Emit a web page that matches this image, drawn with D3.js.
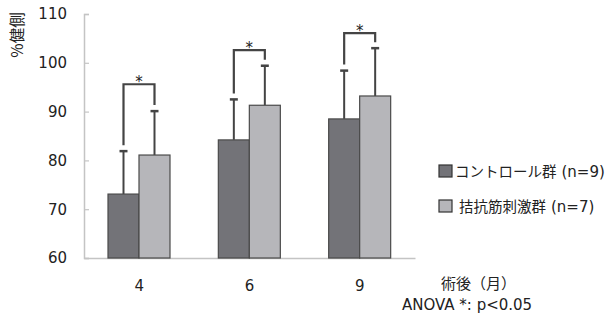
<!DOCTYPE html>
<html><head><meta charset="utf-8">
<script src="https://cdn.jsdelivr.net/npm/d3@7"></script>
<style>body{margin:0;background:#fff}svg{display:block}</style>
</head><body><svg id="c" width="608" height="320"></svg>
<script>
const categories = ["4", "6", "9"];
const seriesNames = ["コントロール群", "拮抗筋刺激群"];
const seriesN = ["(n=9)", "(n=7)"];
const controlMean = [73.1, 84.2, 88.5];
const controlUpper = [81.9, 92.5, 98.4];
const stimMean = [81.1, 91.3, 93.2];
const stimUpper = [90.1, 99.4, 103.0];
const bracketLevel = [95.6, 102.6, 106.1];
const yTicks = [60, 70, 80, 90, 100, 110];

const latin = "'DejaVu Sans', sans-serif";
const cjk = "'Noto Sans CJK JP', 'Noto Sans', sans-serif";
const svg = d3.select("#c").style("font-family", cjk);
const y = d3.scaleLinear().domain([60, 110]).range([258, 14]);
const x0 = d3.scaleBand().domain(categories).range([84, 415]);
const x1 = d3.scaleBand().domain([0, 1]).range([24, 86]);
const colors = ["#737378", "#b6b6ba"];

// axes
const yAxis = d3.axisLeft(y).tickValues(yTicks).tickSize(-5).tickPadding(17).tickFormat(d3.format("d"));
const gy = svg.append("g").attr("transform", "translate(84,0)").call(yAxis);
gy.select(".domain").attr("stroke", "#c4c4c4").attr("stroke-width", 1.5);
gy.selectAll(".tick line").attr("stroke", "#c4c4c4").attr("stroke-width", 1.2);
gy.selectAll(".tick text").attr("font-size", 15).attr("fill", "#222").style("font-family", latin);

const xAxis = d3.axisBottom(x0).tickSize(0).tickPadding(22);
const gx = svg.append("g").attr("transform", "translate(0,258)").call(xAxis);
gx.select(".domain").attr("stroke", "#c4c4c4").attr("stroke-width", 1.5);
gx.selectAll(".tick text").attr("font-size", 15).attr("fill", "#222").style("font-family", latin);

svg.append("text").attr("transform", "translate(23,35) rotate(-90)").attr("text-anchor", "middle")
  .attr("font-size", 15.5).attr("fill", "#222").text("%健側");

const means = [controlMean, stimMean];
const uppers = [controlUpper, stimUpper];

categories.forEach((c, i) => {
  const g = svg.append("g").attr("transform", `translate(${x0(c)},0)`);
  [0, 1].forEach(s => {
    const cx = x1(s) + x1.bandwidth() / 2;
    g.append("line").attr("x1", cx).attr("x2", cx).attr("y1", y(means[s][i])).attr("y2", y(uppers[s][i]))
      .attr("stroke", "#444").attr("stroke-width", 2);
    g.append("line").attr("x1", cx - 4).attr("x2", cx + 4).attr("y1", y(uppers[s][i])).attr("y2", y(uppers[s][i]))
      .attr("stroke", "#444").attr("stroke-width", 2.5);
    g.append("rect").attr("x", x1(s)).attr("width", x1.bandwidth())
      .attr("y", y(means[s][i])).attr("height", y(60) - y(means[s][i]))
      .attr("fill", colors[s]).attr("stroke", "#4a4a4a").attr("stroke-width", 1.2);
  });
  const xa = x1(0) + x1.bandwidth() / 2, xb = x1(1) + x1.bandwidth() / 2;
  const yb = y(bracketLevel[i]);
  g.append("path")
    .attr("d", `M${xa},${y(controlUpper[i]) - 6}V${yb}H${xb}V${y(stimUpper[i]) - 6}`)
    .attr("fill", "none").attr("stroke", "#444").attr("stroke-width", 2.2);
  g.append("text").attr("x", (xa + xb) / 2).attr("y", yb + 3).attr("text-anchor", "middle")
    .attr("font-size", 15).attr("fill", "#222").style("font-family", latin).text("*");
});

// legend
seriesNames.forEach((n, i) => {
  const ly = 165 + i * 35;
  svg.append("rect").attr("x", 439).attr("y", ly).attr("width", 13).attr("height", 12)
    .attr("fill", colors[i]).attr("stroke", "#333").attr("stroke-width", 1.2);
  const t = svg.append("text").attr("x", i === 0 ? 455 : 459).attr("y", ly + 12).attr("font-size", 14.5).attr("fill", "#222");
  t.append("tspan").text(n);
  t.append("tspan").style("font-family", latin).attr("font-size", 15).attr("dx", 5).text(seriesN[i]);
});

svg.append("text").attr("x", 441).attr("y", 289).attr("font-size", 15).attr("fill", "#222").text("術後（月）");
svg.append("text").attr("x", 402).attr("y", 310).attr("font-size", 15).attr("fill", "#222").style("font-family", latin).text("ANOVA *: p<0.05");
</script></body></html>
